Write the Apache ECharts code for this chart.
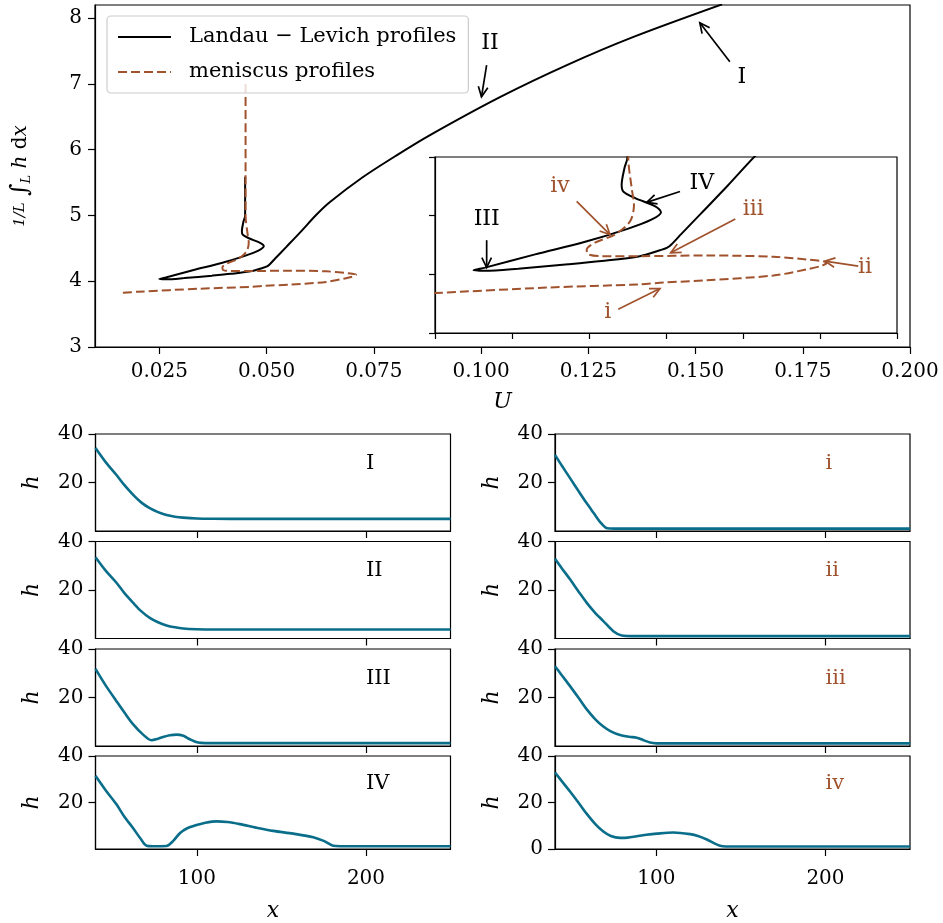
<!DOCTYPE html>
<html><head><meta charset="utf-8">
<script src="https://cdn.jsdelivr.net/npm/echarts@6/dist/echarts.min.js"></script>
<style>html,body{margin:0;padding:0;background:#fff}#c{width:943px;height:923px}</style>
</head><body><div id="c"></div>
<script>
const FONT = 'DejaVu Serif';
const BLACK = '#000000', ORANGE = '#a0522d', TEAL = '#0a6e8a';

// ---- main bifurcation diagram (U, 1/L ∫ h dx) ----
const landauLevich = [
  [0.1562, 8.21], [0.1354, 7.711], [0.1200, 7.286], [0.1044, 6.799], [0.0881, 6.222],
  [0.0804, 5.918], [0.07248, 5.584], [0.06478, 5.204], [0.0616, 5.01], [0.0580, 4.755],
  [0.0545, 4.515], [0.0520, 4.345], [0.0507, 4.254], [0.0501, 4.225], [0.0492, 4.205],
  [0.0466, 4.155], [0.04165, 4.113], [0.0373, 4.085], [0.0308, 4.048], [0.0265, 4.03],
  [0.0250, 4.034], [0.0265, 4.057], [0.0330, 4.17], [0.0395, 4.277], [0.0451, 4.39],
  [0.0481, 4.466], [0.04935, 4.53], [0.0486, 4.58], [0.0460, 4.65], [0.04445, 4.706],
  [0.04424, 4.763], [0.0446, 4.904], [0.0450, 5.0], [0.0450, 5.59]
];
const meniscus = [
  [0.0165, 3.825], [0.020, 3.84], [0.0345, 3.887], [0.04662, 3.915], [0.04965, 3.93],
  [0.05528, 3.949], [0.06394, 3.99], [0.06827, 4.042], [0.0703, 4.075], [0.07087, 4.099],
  [0.0700, 4.115], [0.06827, 4.127], [0.06394, 4.15], [0.05528, 4.161], [0.04662, 4.155],
  [0.04165, 4.155], [0.0399, 4.17], [0.0397, 4.21], [0.04078, 4.27], [0.04338, 4.34],
  [0.04532, 4.45], [0.04584, 4.59], [0.04554, 4.735], [0.0451, 5.0], [0.0451, 7.05]
];
const mainXTicks = [0.025, 0.05, 0.075, 0.1, 0.125, 0.15, 0.175, 0.2];
const mainYTicks = [3, 4, 5, 6, 7, 8];
const insetXTicks = [0.02, 0.03, 0.04, 0.05, 0.06, 0.07, 0.08];
const insetYTicks = [3.5, 4.0, 4.5, 5.0];

// annotation arrows: label position, arrow start, arrow tip (data coords)
const annotMain = [
  { t: 'I',  at: [0.1608, 7.108], from: [0.1580, 7.336], to: [0.1510, 7.929], c: BLACK },
  { t: 'II', at: [0.1021, 7.615], from: [0.1013, 7.286], to: [0.1001, 6.804], c: BLACK }
];
const annotInset = [
  { t: 'III', at: [0.02671, 4.466], from: [0.02671, 4.291], to: [0.02671, 4.057], c: BLACK },
  { t: 'IV',  at: [0.05464, 4.777], from: [0.05182, 4.706], to: [0.04749, 4.613], c: BLACK },
  { t: 'iv',  at: [0.03623, 4.748], from: [0.0384, 4.621],  to: [0.04273, 4.339], c: ORANGE },
  { t: 'iii', at: [0.06134, 4.551], from: [0.0590, 4.472],  to: [0.05061, 4.184], c: ORANGE },
  { t: 'ii',  at: [0.07584, 4.057], from: [0.07497, 4.070], to: [0.07065, 4.113], c: ORANGE },
  { t: 'i',   at: [0.04243, 3.675], from: [0.0438, 3.703],  to: [0.04922, 3.879], c: ORANGE }
];

// ---- film profiles h(x) ----
const profI = [[40,34.2],[46,28.4],[52.4,23.1],[57,19.0],[62.3,14.9],[67,11.8],[72.1,9.4],[77,7.8],[82,6.6],[87,5.9],[91.8,5.5],[100,5.15],[110,5.05],[130,5.0],[250,5.0]];
const profII = [[40,33.5],[46,28.0],[52.4,23.0],[57,18.8],[62.3,14.7],[67,11.3],[72.1,8.5],[77,6.7],[82,5.4],[87,4.6],[91.8,4.1],[100,3.8],[110,3.7],[250,3.7]];
const profIII = [[40,31.8],[46,25.0],[52.4,18.5],[57,13.9],[62.3,8.9],[68,4.8],[73.1,2.4],[77,3.0],[80,3.7],[84,4.4],[87.9,4.7],[92,4.2],[95.8,2.8],[100.7,1.4],[105,1.2],[250,1.2]];
const profIV = [[40,31.5],[46,25.3],[52.4,19.2],[57,14.0],[62.3,8.9],[66.5,4.6],[70.2,1.4],[74,1.2],[82,1.3],[86,3.5],[89.9,6.8],[94,8.8],[99.8,10.3],[105,11.3],[111.6,11.9],[118,11.6],[125.4,10.7],[135,9.2],[145.1,7.8],[157,6.6],[168.8,5.1],[175,3.5],[180.6,1.4],[185,1.2],[250,1.2]];
const profi = [[40,31.4],[44,27.0],[48.9,21.8],[54,16.4],[58.8,11.4],[63,7.3],[66.6,3.8],[70.9,1.1],[75,1.0],[250,1.0]];
const profii = [[40,32.9],[44,29.0],[48.9,24.4],[54,19.3],[58.8,14.7],[64,10.4],[68.6,7.2],[74.5,3.0],[79.5,1.2],[85,1.0],[250,1.0]];
const profiii = [[40,32.9],[44,29.2],[48.9,24.7],[54,19.8],[58.8,15.1],[64,10.9],[68.6,8.0],[73,6.0],[78.5,4.5],[84,3.8],[88.3,3.4],[92,2.5],[96.2,1.4],[100,1.1],[250,1.1]];
const profiv = [[40,32.9],[44,29.2],[48.9,24.7],[54,19.8],[58.8,15.1],[64,10.6],[68.6,7.5],[73,5.6],[78.5,4.8],[83,4.9],[88.3,5.5],[94,6.1],[100.2,6.6],[110,7.1],[119.9,6.4],[125,5.5],[129.8,4.1],[134,2.5],[137.6,1.4],[141,1.1],[250,1.1]];
const profiles = [profI, profII, profIII, profIV, profi, profii, profiii, profiv];
const profileLabels = ['I', 'II', 'III', 'IV', 'i', 'ii', 'iii', 'iv'];
const profileLabelColors = [BLACK, BLACK, BLACK, BLACK, ORANGE, ORANGE, ORANGE, ORANGE];
const profileLabelPos = [200, 28];
const profXTicks = [100, 200];
const profYTicks = [20, 40];
const profYTicksBottomRight = [0, 20, 40];

const LL_NAME = 'Landau \u2212 Levich profiles';
const MN_NAME = 'meniscus profiles';

const chart = echarts.init(document.getElementById('c'), null, { renderer: 'canvas' });

const gridBase = { show: true, borderColor: '#000', borderWidth: 1.2, backgroundColor: '#fff', containLabel: false };
const grids = [
  Object.assign({ left: 95, top: 5, width: 815, height: 342 }, gridBase),
  Object.assign({ left: 435, top: 157, width: 462, height: 176, z: 3 }, gridBase)
];
const rowTops = [434, 541.5, 649, 756];
const colLefts = [95.5, 555];
for (let c = 0; c < 2; c++) for (let r = 0; r < 4; r++)
  grids.push(Object.assign({ left: colLefts[c], top: rowTops[r], width: 355, height: 97 }, gridBase));

const tickStyle = { color: '#000', width: 1.2 };
const labelStyle = { fontFamily: FONT, fontSize: 20, color: '#000' };
const xAxes = [], yAxes = [], series = [];

xAxes.push({ gridIndex: 0, type: 'value', min: 0.01, max: 0.2,
  name: 'U', nameLocation: 'middle', nameGap: 44,
  nameTextStyle: { fontFamily: FONT, fontStyle: 'italic', fontSize: 22, color: '#000' },
  axisLine: { show: true, lineStyle: tickStyle },
  axisTick: { show: true, customValues: mainXTicks, length: 7, lineStyle: tickStyle },
  axisLabel: Object.assign({ customValues: mainXTicks, formatter: v => v.toFixed(3), margin: 15 }, labelStyle),
  splitLine: { show: false } });
yAxes.push({ gridIndex: 0, type: 'value', min: 3, max: 8.2,
  name: '{f|1/L} {m|\u222B}{s|L} {i|h} d{i|x}', nameLocation: 'middle', nameGap: 62, nameRotate: 90,
  nameTextStyle: { fontFamily: FONT, fontSize: 20, color: '#000',
    rich: { f: { fontFamily: FONT, fontSize: 15, fontStyle: 'italic' },
            m: { fontFamily: FONT, fontSize: 24 },
            s: { fontFamily: FONT, fontSize: 13, fontStyle: 'italic', padding: [12, 0, 0, 0] },
            i: { fontFamily: FONT, fontSize: 20, fontStyle: 'italic' } } },
  axisLine: { show: true, lineStyle: tickStyle },
  axisTick: { show: true, customValues: mainYTicks, length: 7, lineStyle: tickStyle },
  axisLabel: Object.assign({ customValues: mainYTicks, margin: 13 }, labelStyle),
  splitLine: { show: false } });
// inset
xAxes.push({ gridIndex: 1, type: 'value', min: 0.02, max: 0.08, z: 3,
  axisLine: { show: true, lineStyle: tickStyle },
  axisTick: { show: true, customValues: insetXTicks, length: 6, lineStyle: tickStyle },
  axisLabel: { show: false }, splitLine: { show: false } });
yAxes.push({ gridIndex: 1, type: 'value', min: 3.5, max: 5.0, z: 3,
  axisLine: { show: true, lineStyle: tickStyle },
  axisTick: { show: true, customValues: insetYTicks, length: 6, lineStyle: tickStyle },
  axisLabel: { show: false }, splitLine: { show: false } });

// profile panels
for (let k = 0; k < 8; k++) {
  const g = k + 2, row = k % 4, isBottom = row === 3;
  const yt = (k === 7) ? profYTicksBottomRight : profYTicks;
  xAxes.push({ gridIndex: g, type: 'value', min: 40, max: 250,
    name: isBottom ? 'x' : '', nameLocation: 'middle', nameGap: 51,
    nameTextStyle: { fontFamily: FONT, fontStyle: 'italic', fontSize: 22, color: '#000' },
    axisLine: { show: true, lineStyle: tickStyle },
    axisTick: { show: true, customValues: profXTicks, length: 7, lineStyle: tickStyle },
    axisLabel: Object.assign({ show: isBottom, customValues: profXTicks, margin: 20 }, labelStyle),
    splitLine: { show: false } });
  yAxes.push({ gridIndex: g, type: 'value', min: 0, max: 40,
    name: 'h', nameLocation: 'middle', nameGap: 52, nameRotate: 90,
    nameTextStyle: { fontFamily: FONT, fontStyle: 'italic', fontSize: 22, color: '#000' },
    axisLine: { show: true, lineStyle: tickStyle },
    axisTick: { show: true, customValues: yt, length: 7, lineStyle: tickStyle },
    axisLabel: Object.assign({ customValues: yt, margin: 12 }, labelStyle),
    splitLine: { show: false } });
  series.push({ type: 'line', xAxisIndex: g, yAxisIndex: g, data: profiles[k], showSymbol: false,
    symbol: 'none', smooth: 0.3, lineStyle: { color: TEAL, width: 2.6 }, silent: true });
  series.push({ type: 'custom', xAxisIndex: g, yAxisIndex: g, clip: false, silent: true, z: 5,
    data: [profileLabelPos],
    renderItem: (function (label, color) {
      return function (params, api) {
        const p = api.coord([api.value(0), api.value(1)]);
        return { type: 'text', x: p[0], y: p[1],
          style: { text: label, fill: color, font: '21px "' + FONT + '"', align: 'left', verticalAlign: 'middle' } };
      };
    })(profileLabels[k], profileLabelColors[k]) });
}

// bifurcation curves (main + inset)
for (const gi of [0, 1]) {
  series.push({ name: LL_NAME, type: 'line', xAxisIndex: gi, yAxisIndex: gi, data: landauLevich,
    showSymbol: false, symbol: 'none', smooth: 0.3, clip: true, z: gi ? 6 : 2,
    lineStyle: { color: BLACK, width: 2 }, itemStyle: { color: BLACK }, silent: true });
  series.push({ name: MN_NAME, type: 'line', xAxisIndex: gi, yAxisIndex: gi, data: meniscus,
    showSymbol: false, symbol: 'none', smooth: 0.3, clip: true, z: gi ? 6 : 2,
    lineStyle: { color: ORANGE, width: 2, type: [9, 4] }, itemStyle: { color: ORANGE }, silent: true });
}

function arrowSeries(list, gi) {
  return { type: 'custom', xAxisIndex: gi, yAxisIndex: gi, clip: false, silent: true, z: 7,
    data: list.map(a => [a.from[0], a.from[1], a.to[0], a.to[1], a.at[0], a.at[1]]),
    renderItem: function (params, api) {
      const a = list[params.dataIndex];
      const p0 = api.coord([api.value(0), api.value(1)]);
      const p1 = api.coord([api.value(2), api.value(3)]);
      const pt = api.coord([api.value(4), api.value(5)]);
      const ang = Math.atan2(p1[1] - p0[1], p1[0] - p0[0]);
      const L = 11, W = 0.45;
      const h1 = [p1[0] - L * Math.cos(ang - W), p1[1] - L * Math.sin(ang - W)];
      const h2 = [p1[0] - L * Math.cos(ang + W), p1[1] - L * Math.sin(ang + W)];
      return { type: 'group', children: [
        { type: 'line', shape: { x1: p0[0], y1: p0[1], x2: p1[0], y2: p1[1] }, style: { stroke: a.c, lineWidth: 1.7 } },
        { type: 'polyline', shape: { points: [h1, p1, h2] }, style: { stroke: a.c, lineWidth: 1.7, fill: null } },
        { type: 'text', x: pt[0], y: pt[1], style: { text: a.t, fill: a.c, font: '22px "' + FONT + '"', align: 'center', verticalAlign: 'middle' } }
      ] };
    } };
}
series.push(arrowSeries(annotMain, 0));
series.push(arrowSeries(annotInset, 1));

chart.setOption({
  animation: false,
  backgroundColor: '#fff',
  grid: grids,
  xAxis: xAxes,
  yAxis: yAxes,
  legend: { left: 107, top: 16, orient: 'vertical', itemWidth: 53, itemHeight: 14, itemGap: 11,
    padding: [9, 12, 9, 10], borderColor: '#cccccc', borderWidth: 1.2, borderRadius: 4,
    backgroundColor: 'rgba(255,255,255,0.8)', selectedMode: false, z: 10,
    itemStyle: { opacity: 0 },
    lineStyle: { width: 2 },
    textStyle: { fontFamily: FONT, fontSize: 21, lineHeight: 24, color: '#000', padding: [0, 0, 0, 13] },
    data: [LL_NAME, MN_NAME] },
  series: series
});
</script></body></html>
